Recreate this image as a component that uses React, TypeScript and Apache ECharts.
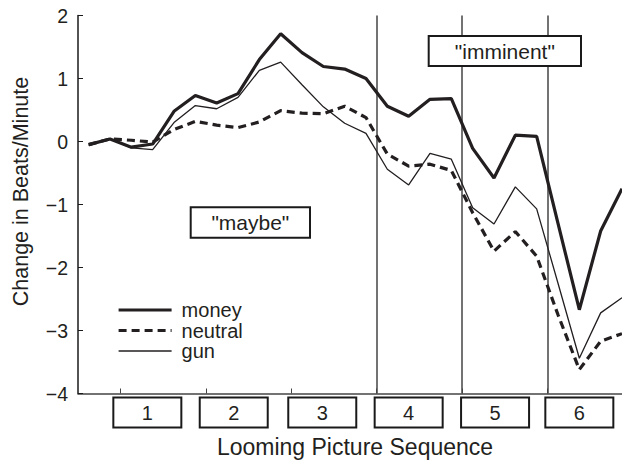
import React, { useEffect, useRef } from "react";
import * as echarts from "echarts";

// ---- data ----
const seriesNames = ["money", "neutral", "gun"];
const money = [-0.05, 0.04, -0.09, -0.04, 0.48, 0.73, 0.61, 0.76, 1.3, 1.71, 1.41, 1.19, 1.15, 1.0, 0.56, 0.4, 0.67, 0.68, -0.11, -0.58, 0.1, 0.08, -1.3, -2.67, -1.42, -0.75];
const neutral = [-0.05, 0.04, 0.02, -0.01, 0.19, 0.32, 0.26, 0.22, 0.31, 0.49, 0.45, 0.44, 0.56, 0.38, -0.2, -0.39, -0.36, -0.46, -1.13, -1.74, -1.43, -1.82, -2.75, -3.62, -3.17, -3.05];
const gun = [-0.06, 0.04, -0.1, -0.13, 0.3, 0.57, 0.52, 0.7, 1.13, 1.26, 0.9, 0.55, 0.29, 0.13, -0.44, -0.69, -0.19, -0.28, -1.05, -1.31, -0.72, -1.07, -2.25, -3.44, -2.72, -2.48];
const sequenceLabels = ["1", "2", "3", "4", "5", "6"];
const sequenceBoundaries = [1.5, 5.5, 9.5, 13.5, 17.5, 21.5];
const dividerLines = [13.5, 17.5, 21.5];
const labelCenters = [2.75, 6.8, 10.95, 15.0, 19.05, 23.0];
const yTicks = { min: -4, max: 2, interval: 1 };
const annotations = [
  { text: '"maybe"', x: 190.7, y: 207.3, w: 119.3, h: 30.4 },
  { text: '"imminent"', x: 428.7, y: 36, w: 152.3, h: 30 },
];

const INK = "#231f20";
const FONT = "'Liberation Sans', Arial, Helvetica, sans-serif";

const lineStyles: Record<string, any> = {
  money: { color: INK, width: 3.2, type: "solid" },
  neutral: { color: INK, width: 3.2, type: [8, 5] },
  gun: { color: INK, width: 1.3, type: "solid" },
};

const toPairs = (vals: number[]) => vals.map((v, i) => [i, v]);

export default function App() {
  const ref = useRef<HTMLDivElement>(null);
  useEffect(() => {
    if (!ref.current) return;
    const chart = echarts.init(ref.current, undefined, { renderer: "svg" });
    const option: any = {
      animation: false,
      backgroundColor: "#ffffff",
      textStyle: { fontFamily: FONT, color: INK },
      grid: { left: 78, right: 0, top: 15.5, bottom: 68.5, containLabel: false, outerBoundsMode: "none" },
      legend: {
        data: seriesNames.map((n) => ({ name: n, lineStyle: lineStyles[n] })),
        orient: "vertical",
        left: 112,
        top: 295,
        itemWidth: 53,
        itemHeight: 14,
        itemGap: 0.5,
        selectedMode: false,
        itemStyle: { opacity: 0 },
        textStyle: { fontFamily: FONT, fontSize: 20, color: INK, padding: [0, 0, 0, 5] },
      },
      xAxis: {
        type: "value",
        min: -0.5,
        max: 25,
        name: "Looming Picture Sequence",
        nameLocation: "middle",
        nameGap: 42,
        nameTextStyle: { fontFamily: FONT, fontSize: 23, color: INK, padding: [0, 0, 0, 10] },
        axisLine: { show: true, onZero: false, lineStyle: { color: "#444", width: 1.5 } },
        axisTick: { show: true, inside: true, length: 5, customValues: sequenceBoundaries, lineStyle: { color: "#444", width: 1 } },
        splitLine: { show: false },
        axisLabel: {
          customValues: labelCenters,
          formatter: (v: number) => {
            const i = labelCenters.findIndex((c) => Math.abs(c - v) < 1e-6);
            return i >= 0 ? sequenceLabels[i] : "";
          },
          fontFamily: FONT,
          fontSize: 20,
          color: INK,
          margin: 5,
          backgroundColor: "#fff",
          borderColor: "#1a1a1a",
          borderWidth: 2,
          width: 62,
          height: 26,
          lineHeight: 26,
          align: "center",
          padding: [1, 2, 1, 2],
        },
      },
      yAxis: {
        type: "value",
        min: yTicks.min,
        max: yTicks.max,
        interval: yTicks.interval,
        name: "Change in Beats/Minute",
        nameLocation: "middle",
        nameGap: 46,
        nameTextStyle: { fontFamily: FONT, fontSize: 21.5, color: INK, padding: [0, 0, 0, 26] },
        axisLine: { show: true, onZero: false, lineStyle: { color: "#1a1a1a", width: 1.5 } },
        axisTick: { show: true, inside: true, length: 5, lineStyle: { color: "#1a1a1a", width: 1 } },
        splitLine: { show: false },
        axisLabel: {
          fontFamily: FONT,
          fontSize: 19.5,
          color: INK,
          margin: 10,
          formatter: (v: number) => String(v).replace("-", "\u2212"),
        },
      },
      series: [
        {
          name: "money",
          type: "line",
          data: toPairs(money),
          symbol: "none",
          lineStyle: lineStyles.money,
          itemStyle: { color: INK },
          z: 3,
          markLine: {
            silent: true,
            symbol: ["none", "none"],
            label: { show: false },
            lineStyle: { color: "#444", width: 1.5, type: "solid" },
            data: dividerLines.map((x) => ({ xAxis: x })),
            z: 1,
          },
        },
        {
          name: "neutral",
          type: "line",
          data: toPairs(neutral),
          symbol: "none",
          lineStyle: lineStyles.neutral,
          itemStyle: { color: INK },
          z: 3,
        },
        {
          name: "gun",
          type: "line",
          data: toPairs(gun),
          symbol: "none",
          lineStyle: lineStyles.gun,
          itemStyle: { color: INK },
          z: 3,
        },
      ],
      graphic: annotations.map((a) => ({
        type: "group",
        z: 100,
        children: [
          {
            type: "rect",
            shape: { x: a.x, y: a.y, width: a.w, height: a.h },
            style: { fill: "#fff", stroke: "#1a1a1a", lineWidth: 2 },
            z: 100,
          },
          {
            type: "text",
            x: a.x + a.w / 2,
            y: a.y + a.h / 2,
            style: {
              text: a.text,
              fontFamily: FONT,
              fontSize: 21,
              fill: INK,
              align: "center",
              verticalAlign: "middle",
            },
            z: 101,
          },
        ],
      })),
    };
    chart.setOption(option);
    return () => chart.dispose();
  }, []);
  return (
    <div
      ref={ref}
      style={{ position: "fixed", left: 0, top: 0, width: 622, height: 462, background: "#fff" }}
    />
  );
}
